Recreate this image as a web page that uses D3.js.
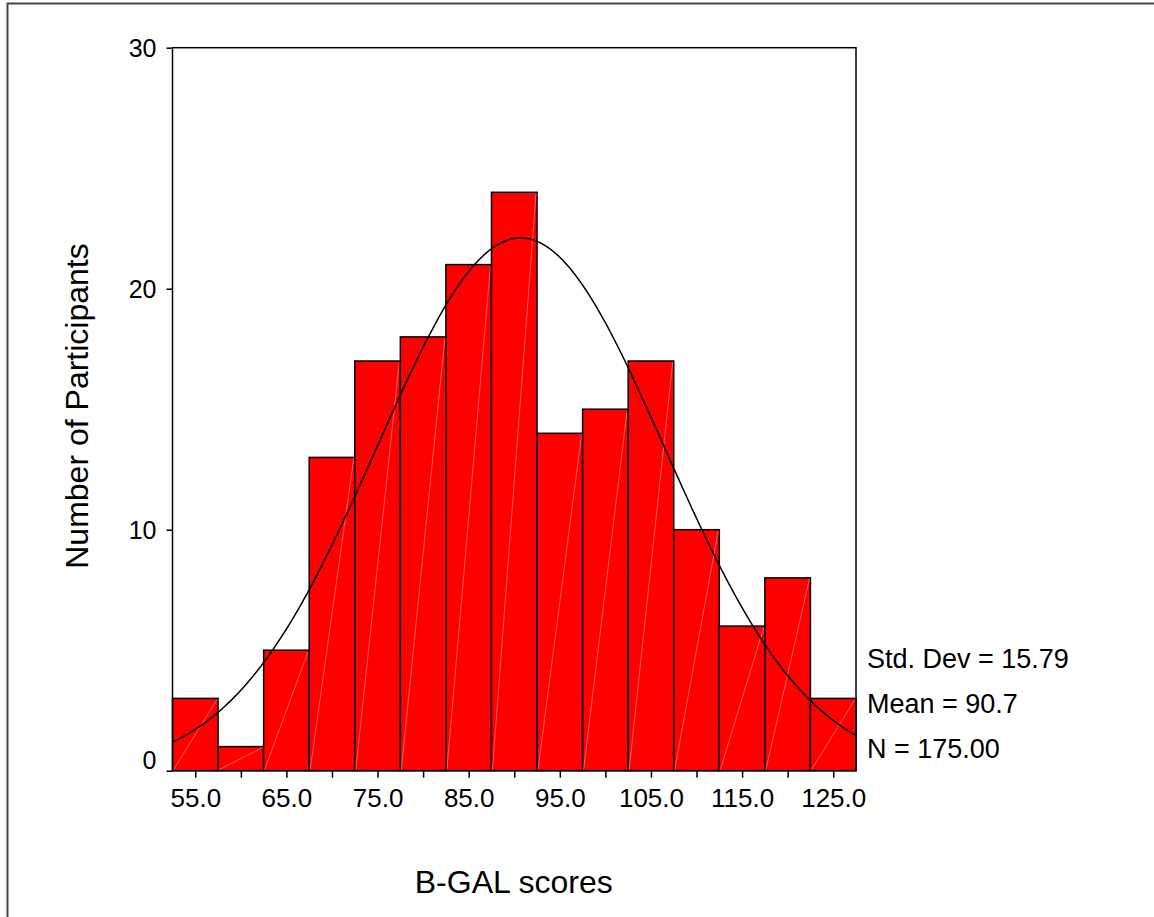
<!DOCTYPE html>
<html lang="en">
<head>
    <meta charset="UTF-8">
    <title>B-GAL scores</title>
    <script src="https://d3js.org/d3.v7.min.js"></script>
    <style>
        body { margin: 0; background: #fff; }
        text { font-family: Arial, "Liberation Sans", sans-serif; fill: #000; }
    </style>
</head>
<body>
    <div id="chart"></div>
    <script>
        // histogram bins (midpoints) and counts
        const binMids = [55, 60, 65, 70, 75, 80, 85, 90, 95, 100, 105, 110, 115, 120, 125];
        const counts = [3, 1, 5, 13, 17, 18, 21, 24, 14, 15, 17, 10, 6, 8, 3];
        const binWidth = 5;
        const xTickLabels = [55, 65, 75, 85, 95, 105, 115, 125];
        const yTickLabels = [0, 10, 20, 30];
        const statLabels = ["Std. Dev = 15.79", "Mean = 90.7", "N = 175.00"];
        const stdDev = 15.79, mean = 90.7, nTotal = 175;

        const width = 1154, height = 917;
        const margin = {top: 47.7, right: 298, bottom: 146.3, left: 172.5};
        const chartWidth = width - margin.left - margin.right,
              chartHeight = height - margin.top - margin.bottom;

        const svg = d3.select("#chart").append("svg")
            .attr("width", width)
            .attr("height", height);

        // outer frame (only top and left visible)
        svg.append("rect")
           .attr("x", 7.5).attr("y", 3.5)
           .attr("width", 2000).attr("height", 2000)
           .attr("fill", "none")
           .attr("stroke", "#444")
           .attr("stroke-width", 2);

        const x = d3.scaleLinear()
            .domain([binMids[0] - binWidth / 2, binMids[binMids.length - 1] + binWidth / 2])
            .range([0, chartWidth]);
        const y = d3.scaleLinear().domain([0, 30]).range([chartHeight, 0]);

        const g = svg.append("g")
                     .attr("transform", `translate(${margin.left},${margin.top})`);

        // bars
        const bars = g.selectAll(".bar")
            .data(binMids.map((m, i) => ({mid: m, count: counts[i]})))
            .enter().append("g");

        bars.append("rect")
            .attr("x", d => x(d.mid - binWidth / 2))
            .attr("width", d => x(d.mid + binWidth / 2) - x(d.mid - binWidth / 2))
            .attr("y", d => y(d.count))
            .attr("height", d => chartHeight - y(d.count))
            .attr("fill", "#ff0000")
            .attr("stroke", "#000")
            .attr("stroke-width", 1.5);

        // faint diagonal seams inside each bar
        bars.append("line")
            .attr("x1", d => x(d.mid - binWidth / 2) + 1)
            .attr("y1", chartHeight - 1)
            .attr("x2", d => x(d.mid + binWidth / 2) - 1)
            .attr("y2", d => y(d.count) + 1)
            .attr("stroke", "#ff9a9a")
            .attr("stroke-width", 0.6);

        // fitted normal curve
        const scale = nTotal * binWidth / (stdDev * Math.sqrt(2 * Math.PI));
        const curveXs = d3.range(x.domain()[0], x.domain()[1] + 0.01, 0.25);
        g.append("path")
         .datum(curveXs)
         .attr("fill", "none")
         .attr("stroke", "#000")
         .attr("stroke-width", 1.5)
         .attr("d", d3.line()
            .x(v => x(v))
            .y(v => y(scale * Math.exp(-0.5 * Math.pow((v - mean) / stdDev, 2)))));

        // plot frame
        g.append("rect")
         .attr("width", chartWidth)
         .attr("height", chartHeight)
         .attr("fill", "none")
         .attr("stroke", "#000")
         .attr("stroke-width", 1.5);

        // x axis ticks
        g.append("g")
         .attr("transform", `translate(0,${chartHeight})`)
         .call(d3.axisBottom(x).tickValues(binMids).tickSize(7)
            .tickFormat(v => xTickLabels.includes(v) ? d3.format(".1f")(v) : ""))
         .call(a => a.select(".domain").remove())
         .call(a => a.selectAll("line").attr("stroke-width", 1.5))
         .call(a => a.selectAll("text")
            .attr("y", 0).attr("dy", null)
            .attr("transform", "translate(0,36)")
            .style("font-size", "26px")
            .style("font-family", "Arial, 'Liberation Sans', sans-serif"));

        // y axis ticks
        g.append("g")
         .call(d3.axisLeft(y).tickValues(yTickLabels).tickSize(6).tickPadding(10))
         .call(a => a.select(".domain").remove())
         .call(a => a.selectAll("line").attr("stroke-width", 1.5))
         .call(a => a.selectAll("text")
            .attr("dy", v => v === 0 ? "-0.1em" : "0.35em")
            .style("font-size", "25px")
            .style("font-family", "Arial, 'Liberation Sans', sans-serif"));

        // axis titles
        svg.append("text")
           .attr("x", margin.left + chartWidth / 2 - 0.5)
           .attr("y", 893)
           .attr("text-anchor", "middle")
           .style("font-size", "32px")
           .text("B-GAL scores");

        svg.append("text")
           .attr("transform", "translate(88,406) rotate(-90)")
           .attr("text-anchor", "middle")
           .style("font-size", "32px")
           .text("Number of Participants");

        // summary stats
        svg.selectAll(".stat")
           .data(statLabels)
           .enter().append("text")
           .attr("x", 867)
           .attr("y", (d, i) => 668 + i * 45)
           .style("font-size", "27px")
           .text(d => d);
    </script>
</body>
</html>
